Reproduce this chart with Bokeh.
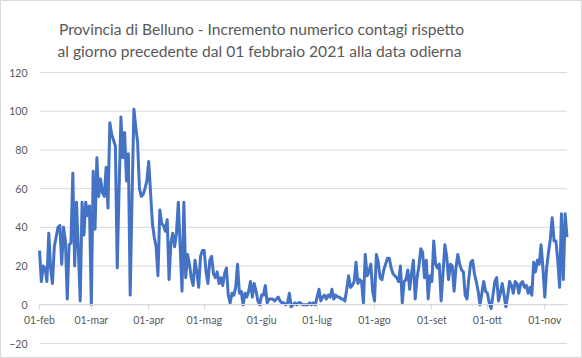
import pandas as pd
from bokeh.plotting import figure
from bokeh.models import Range1d, FixedTicker, Label
from bokeh.embed import file_html
from bokeh.resources import INLINE

# ---- data (daily increments) ----
start_date = "2021-02-01"
feb = [28, 12, 20, 19, 12, 37, 19, 11, 30, 35, 40, 41, 21, 40, 33, 3, 31, 32, 68, 20, 53, 28, 2, 53, 36, 53, 46, 51]
mar = [0, 69, 39, 76, 56, 65, 58, 56, 71, 50, 94, 88, 85, 82, 19, 60, 97, 76, 89, 64, 78, 5, 55, 101, 92, 84, 60, 56, 57, 60, 64]
apr = [74, 58, 42, 35, 30, 15, 49, 42, 41, 38, 44, 13, 32, 37, 30, 37, 53, 30, 7, 53, 14, 26, 21, 14, 10, 23, 17, 9, 25, 28]
may = [28, 17, 11, 23, 25, 16, 14, 17, 11, 14, 10, 16, 19, 5, 1, 6, 5, 9, 21, 6, 7, 0, 6, 4, 7, 12, 4, 11, 7, 2, 0]
jun = [5, 5, 10, 1, 3, 3, 3, 2, 3, 4, 2, 1, 1, 0, 1, 6, -1, 0, 1, 0, 1, 1, 0, 0, 0, 0, 1, 0, 1, 0]
jul = [4, 8, 2, 4, 5, 3, 5, 4, 8, 3, 5, 4, 4, 3, 3, 2, 8, 15, 9, 10, 12, 22, 11, 13, 12, 1, 26, 15, 17, 21, 7]
aug = [2, 26, 22, 14, 13, 18, 21, 24, 24, 19, 16, 15, 14, 12, 20, 1, 12, 13, 18, 8, 16, 23, 3, 14, 20, 29, 27, 14, 23, 3, 15]
sep = [12, 33, 21, 19, 21, 2, 16, 31, 25, 13, 21, 20, 7, 19, 26, 21, 18, 17, 5, 3, 14, 22, 23, 16, 12, 7, 0, 6, 12, 7]
ott = [6, 1, -2, 5, 12, 14, 2, 6, 11, 5, -1, 5, 12, 10, 6, 12, 11, 6, 11, 12, 9, 10, 6, 9, 5, 22, 17, 23, 21, 31, 19]
nov = [4, 19, 27, 34, 45, 33, 33, 23, 9, 47, 13, 47, 35]

month_starts = ["2021-02-01", "2021-03-01", "2021-04-01", "2021-05-01", "2021-06-01",
                "2021-07-01", "2021-08-01", "2021-09-01", "2021-10-01", "2021-11-01"]
month_labels = ["01-feb", "01-mar", "01-apr", "01-mag", "01-giu",
                "01-lug", "01-ago", "01-set", "01-ott", "01-nov"]
y_ticks = [-20, 0, 20, 40, 60, 80, 100, 120]

title_lines = ["Provincia di Belluno - Incremento numerico contagi rispetto",
               "al giorno precedente dal  01 febbraio 2021 alla data odierna"]

values = feb + mar + apr + may + jun + jul + aug + sep + ott + nov
dates = pd.date_range(start_date, periods=len(values), freq="D")
tick_ms = [float(pd.Timestamp(d).value // 10**6) for d in month_starts]

FONT = "Lato"
GREY_TXT = "#595959"
GRID = "#d9d9d9"

# ---- layout (pixels inside the figure) ----
W, H = 582, 358
px_left, px_right = 39.0, 566.5      # first / last day
px_top, px_bottom = 72.0, 343.0      # y = 120 / y = -20
title_cx = 261
day = pd.Timedelta(days=1)
n_days = (dates[-1] - dates[0]) / day
ppd = (px_right - px_left) / n_days
ppu = (px_bottom - px_top) / (max(y_ticks) - min(y_ticks))
x0 = dates[0] - day * (px_left / ppd)
x1 = dates[-1] + day * ((W - px_right) / ppd)
y1 = max(y_ticks) + px_top / ppu
y0 = min(y_ticks) - (H - px_bottom) / ppu

p = figure(width=W, height=H, output_backend="svg", toolbar_location=None, title=None,
           x_axis_type="datetime", x_axis_location="below", y_axis_location="left",
           x_range=Range1d(x0, x1), y_range=Range1d(y0, y1), min_border=0)
p.outline_line_color = GRID
p.background_fill_color = "white"
p.border_fill_color = "white"
p.xgrid.visible = False
p.ygrid.visible = False

# horizontal gridlines across the date span
p.segment(x0=[dates[0]] * len(y_ticks), x1=[dates[-1]] * len(y_ticks), y0=y_ticks, y1=y_ticks,
          line_color=GRID, line_width=1)

yax = p.yaxis[0]
yax.fixed_location = float(dates[0].value // 10**6)
yax.ticker = FixedTicker(ticks=y_ticks)
yax.axis_line_color = None
yax.major_tick_line_color = None
yax.minor_tick_line_color = None
yax.major_tick_out = 0
yax.major_tick_in = 0
yax.major_label_standoff = 12
yax.major_label_text_font = FONT
yax.major_label_text_font_size = "10.5px"
yax.major_label_text_color = GREY_TXT

# date axis crossing at y = 0
xax = p.xaxis[0]
xax.fixed_location = 0
xax.bounds = (dates[0].to_pydatetime(), dates[-1].to_pydatetime())
xax.ticker = FixedTicker(ticks=tick_ms)
xax.major_label_overrides = {t: lab for t, lab in zip(tick_ms, month_labels)}
xax.axis_line_color = GRID
xax.major_tick_line_color = GRID
xax.minor_tick_line_color = None
xax.major_tick_out = 5
xax.major_tick_in = 0
xax.major_label_standoff = 4
xax.major_label_text_font = FONT
xax.major_label_text_font_size = "10.5px"
xax.major_label_text_color = GREY_TXT

p.line(dates, values, line_color="#4472c4", line_width=3, line_join="round")

# two-line title
baselines = [28.3, 50.7]
for line, b in zip(title_lines, baselines):
    p.add_layout(Label(x=title_cx, y=H - b, x_units="screen", y_units="screen",
                       text=line, text_align="center", text_baseline="alphabetic",
                       text_font=FONT, text_font_size="15.6px", text_color=GREY_TXT))

open("out.html", "w").write(file_html(p, INLINE))
